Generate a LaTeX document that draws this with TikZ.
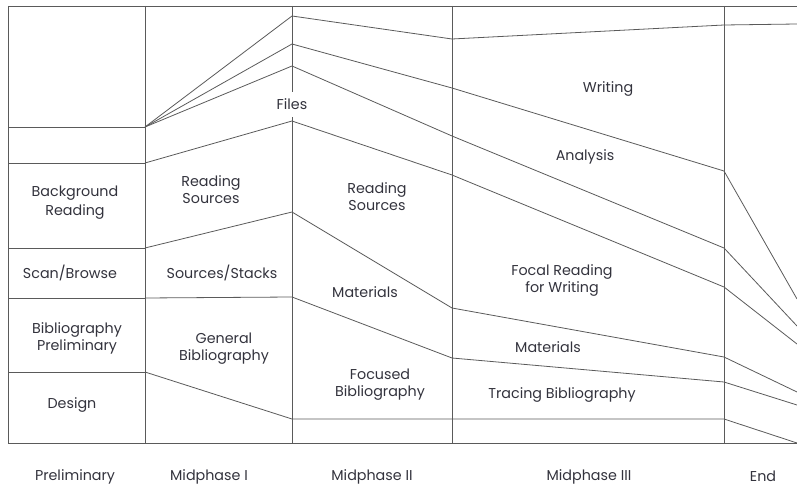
\documentclass[tikz,border=0pt]{standalone}
\usepackage{fontspec}
\setmainfont{Poppins}
\definecolor{ln}{HTML}{5A5A5A}
\definecolor{tx}{HTML}{33333D}
\begin{document}
\begin{tikzpicture}[x=1pt,y=-1pt,
  rule/.style={draw=ln,line width=0.8pt,line join=round},
  lbl/.style={text=tx,font=\fontsize{14.3}{16.5}\selectfont,align=center,inner sep=1pt,yshift=-1.5pt},
  phase/.style={lbl,inner sep=0pt}]
\useasboundingbox (0,0) rectangle (797,486);
% column coordinates
\coordinate (atop) at (8,6);   \coordinate (abot) at (8,443);
\coordinate (btop) at (145,6); \coordinate (bbot) at (145,443);
\coordinate (ctop) at (292,6); \coordinate (cbot) at (292,443);
\coordinate (dtop) at (452,6); \coordinate (dbot) at (452,443);
\coordinate (etop) at (724,6); \coordinate (ebot) at (724,443);
\coordinate (ftop) at (797,6); \coordinate (fbot) at (797,443);
% frame
\draw[rule] (atop) -- (ftop);
\draw[rule] (abot) -- (fbot);
\draw[rule] (atop) -- (abot);
\draw[rule] (btop) -- (bbot);
\draw[rule] (dtop) -- (dbot);
\draw[rule] (etop) -- (ebot);
% Files node on column c line
\node[lbl,fill=white,inner xsep=2pt,minimum height=25pt] (files) at (292,103) {Files};
\draw[rule] (ctop) -- (files.north);
\draw[rule] (files.south) -- (cbot);
% Preliminary column boundaries
\coordinate (p1) at (8,127);  \coordinate (q1) at (145,127);
\coordinate (p2) at (8,163);  \coordinate (q2) at (145,163);
\coordinate (p3) at (8,248);  \coordinate (q3) at (145,248);
\coordinate (p4) at (8,298);  \coordinate (q4) at (145,298);
\coordinate (p5) at (8,372);  \coordinate (q5) at (145,372);
\draw[rule] (p1) -- (q1);
\draw[rule] (p2) -- (q2);
\draw[rule] (p3) -- (q3);
\draw[rule] (p4) -- (q4);
\draw[rule] (p5) -- (q5);
% Midphase II column left edge
\coordinate (c1) at (292,16);
\coordinate (c2) at (292,44);
\coordinate (c3) at (292,66);
\coordinate (c4) at (292,121);
\coordinate (c5) at (292,212);
\coordinate (c6) at (292,297);
\coordinate (c7) at (292,419);
% Midphase III column left edge
\coordinate (d1) at (452,39);
\coordinate (d2) at (452,88);
\coordinate (d3) at (452,136);
\coordinate (d4) at (452,175);
\coordinate (d5) at (452,308);
\coordinate (d6) at (452,358);
\coordinate (d7) at (452,419);
% End column left edge
\coordinate (e1) at (724,25);
\coordinate (e2) at (724,171);
\coordinate (e3) at (724,248);
\coordinate (e4) at (724,287);
\coordinate (e5) at (724,357);
\coordinate (e6) at (724,382);
\coordinate (e7) at (724,419);
% right edge
\coordinate (f1) at (797,24);
\coordinate (f2) at (797,299);
\coordinate (f3) at (797,326);
\coordinate (f4) at (797,344);
\coordinate (f5) at (797,392);
\coordinate (f6) at (797,405);
\coordinate (f7) at (797,443);
% flowing boundaries
\draw[rule] (q1) -- (c1) -- (d1) -- (e1) -- (f1);
\draw[rule] (q1) -- (c2) -- (d2) -- (e2) -- (f2);
\draw[rule] (q1) -- (c3) -- (d3) -- (e3) -- (f3);
\draw[rule] (q2) -- (c4) -- (d4) -- (e4) -- (f4);
\draw[rule] (q3) -- (c5) -- (d5) -- (e5) -- (f5);
\draw[rule] (q4) -- (c6) -- (d6) -- (e6) -- (f6);
\draw[rule] (q5) -- (c7) -- (d7) -- (e7) -- (f7);
% labels
\node[lbl] (bg) at (75,201) {Background\\[3pt]Reading};
\node[lbl] (scan) at (70,271) {Scan/Browse};
\node[lbl] (bibp) at (77,337) {Bibliography\\Preliminary};
\node[lbl] (design) at (72,403) {Design};
\node[lbl] (rs1) at (211,188) {Reading\\Sources};
\node[lbl] (stacks) at (222,271) {Sources/Stacks};
\node[lbl] (genb) at (224,347) {General\\Bibliography};
\node[lbl] (rs2) at (377,195) {Reading\\Sources};
\node[lbl] (mat1) at (365,291) {Materials};
\node[lbl] (focb) at (380,383) {Focused\\Bibliography};
\node[lbl] (writing) at (608,87) {Writing};
\node[lbl] (analysis) at (585,155) {Analysis};
\node[lbl] (focal) at (562,279) {Focal Reading\\for Writing};
\node[lbl] (mat2) at (548,346) {Materials};
\node[lbl] (trace) at (562,393) {Tracing Bibliography};
% phase labels
\node[phase] (ph1) at (75,475) {Preliminary};
\node[phase] (ph2) at (209,475) {Midphase I};
\node[phase] (ph3) at (372,475) {Midphase II};
\node[phase] (ph4) at (589,475) {Midphase III};
\node[phase] (ph5) at (763,475) {End};
\end{tikzpicture}
\end{document}
